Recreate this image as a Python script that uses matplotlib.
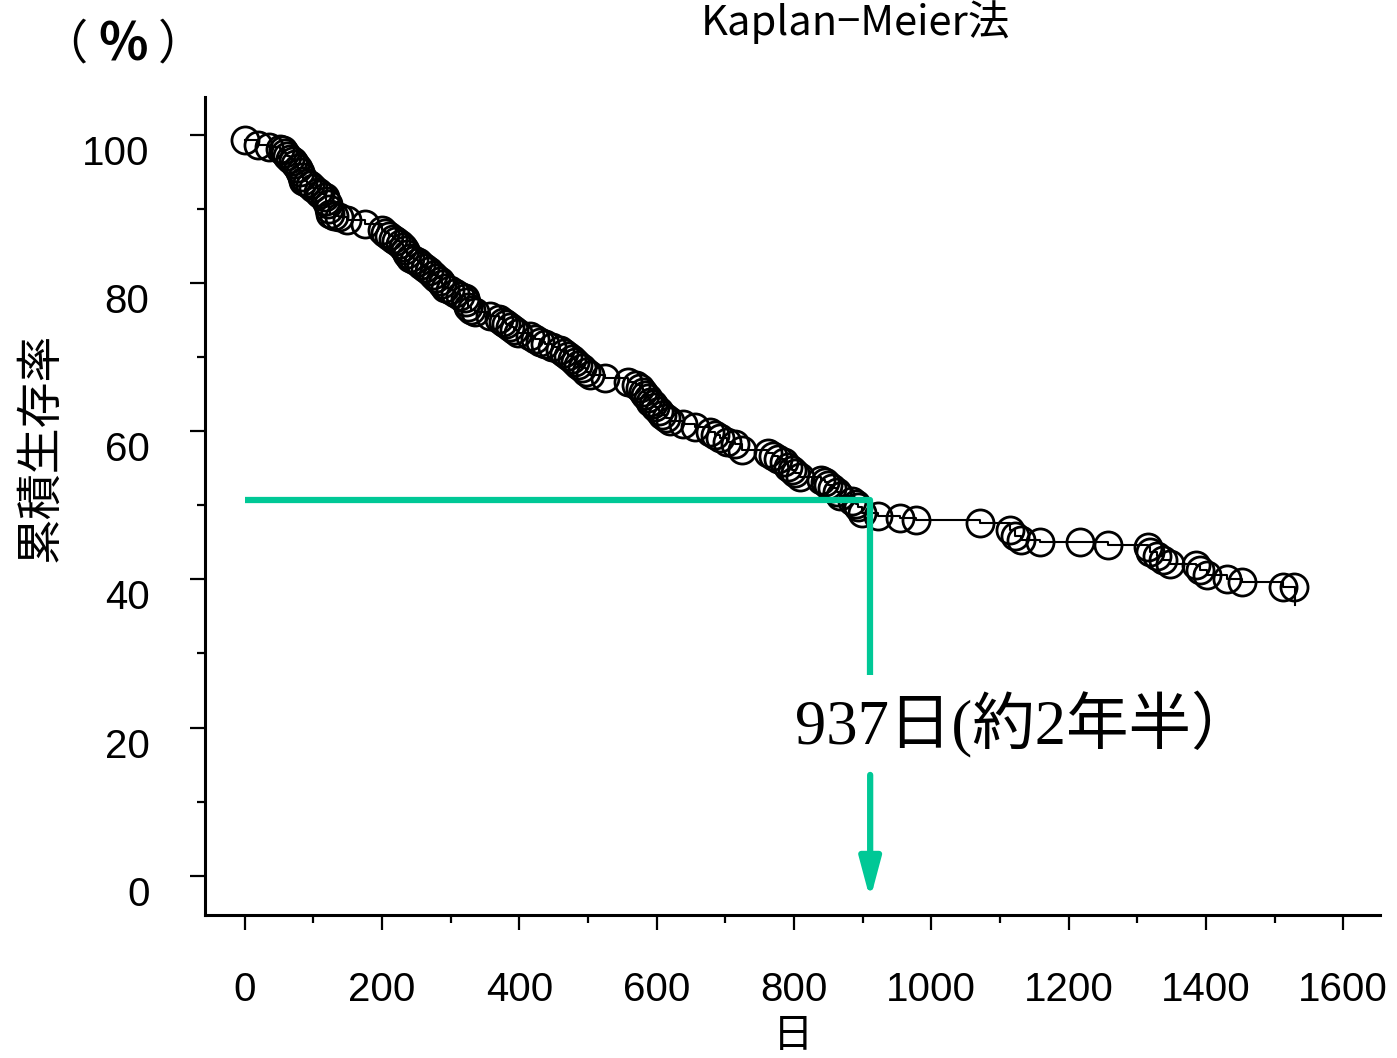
import matplotlib
matplotlib.use("Agg")
import matplotlib.pyplot as plt
from matplotlib.ticker import MultipleLocator
from matplotlib.transforms import ScaledTranslation

# ---- data ----
days = [0, 19, 35, 51, 55, 58, 62, 66, 70, 73, 77, 80, 83, 85, 90, 95, 100, 106, 110, 117,
        119, 121, 123, 124, 130, 138, 149, 175, 200, 204, 210, 216, 221, 226, 230, 233, 237,
        241, 246, 252, 257, 262, 268, 274, 279, 284, 288, 292, 299, 306, 314, 321, 323, 325,
        330, 335, 357, 370, 376, 381, 386, 392, 398, 415, 423, 430, 437, 448, 459, 465, 471,
        476, 481, 486, 491, 497, 503, 525, 558, 570, 576, 580, 583, 587, 590, 594, 598, 603,
        608, 614, 620, 638, 656, 678, 685, 692, 703, 714, 724, 762, 770, 777, 785, 792, 797,
        802, 809, 840, 845, 850, 856, 862, 867, 885, 890, 894, 899, 923, 955, 978, 1071, 1115,
        1122, 1130, 1159, 1217, 1257, 1315, 1319, 1329, 1338, 1348, 1385, 1392, 1402, 1431,
        1453, 1512, 1528]
survival = [99.3, 98.6, 98.3, 98.1, 97.9, 97.6, 97.2, 96.8, 96.4, 96.0, 95.5, 95.0, 94.3, 93.7,
            93.5, 93.2, 92.8, 92.3, 92.0, 91.6, 91.1, 90.6, 90.0, 89.3, 89.1, 88.9, 88.5, 87.9,
            87.1, 86.8, 86.4, 86.0, 85.6, 85.2, 84.8, 84.4, 83.9, 83.4, 83.1, 82.8, 82.4, 82.0,
            81.6, 81.1, 80.7, 80.3, 79.8, 79.3, 79.0, 78.7, 78.3, 78.0, 77.4, 76.8, 76.4, 76.1,
            75.6, 75.1, 74.8, 74.4, 74.0, 73.6, 73.2, 72.8, 72.5, 72.1, 71.7, 71.3, 70.9, 70.5,
            70.1, 69.7, 69.3, 68.9, 68.5, 68.0, 67.6, 67.2, 66.7, 66.2, 65.8, 65.3, 64.9, 64.5,
            64.0, 63.6, 63.2, 62.7, 62.2, 61.8, 61.4, 60.9, 60.5, 59.9, 59.5, 59.1, 58.6, 58.2,
            57.5, 57.1, 56.7, 56.3, 55.8, 55.2, 54.7, 54.3, 53.8, 53.4, 53.1, 52.8, 52.3, 51.8,
            51.3, 50.6, 50.2, 49.7, 49.0, 48.5, 48.3, 48.0, 47.6, 46.7, 45.9, 45.3, 45.1, 45.1,
            44.7, 44.3, 43.7, 43.1, 42.6, 42.1, 41.9, 41.3, 40.6, 40.0, 39.6, 38.9, 38.9]
end_day = 1530
end_survival = 36.6

median_day = 911
median_level = 50.7
gap_top, gap_bottom = 27.1, 13.6
arrow_tip = -3.2

xticks = [0, 200, 400, 600, 800, 1000, 1200, 1400, 1600]
yticks = [0, 20, 40, 60, 80, 100]

title = "Kaplan−Meier法"
xlabel = "日"
ylabel = "累積生存率"
unit_parts = ["（", "%", "）"]
note = "937日(約2年半）"

GREEN = "#00C896"
plt.rcParams["font.family"] = ["Liberation Sans", "Noto Sans CJK JP", "DejaVu Sans"]

fig = plt.figure(figsize=(13.97, 10.58), dpi=100)
ax = fig.add_axes([0.1467, 0.1352, 0.8413, 0.7731])

# KM step line
ax.plot(days + [end_day, end_day], survival + [survival[-1], end_survival],
        drawstyle="steps-post", color="black", lw=1.5, zorder=3)
ax.plot(days, survival, linestyle="none", marker="o", ms=19.5, mfc="none",
        mec="black", mew=2.0, zorder=4)

# median guide
ax.plot([0, median_day, median_day], [median_level, median_level, gap_top],
        color=GREEN, lw=4.5, zorder=5, solid_joinstyle="round", solid_capstyle="butt")
ax.annotate("", xy=(median_day, arrow_tip), xytext=(median_day, gap_bottom),
            arrowprops=dict(arrowstyle="-|>,head_length=1.2,head_width=0.32",
                            color=GREEN, lw=4.5, mutation_scale=20,
                            shrinkA=0, shrinkB=0), zorder=5)
ax.text(802, 20.3, note, fontsize=45, va="center", ha="left",
        family=["Liberation Serif", "Noto Sans CJK JP"])

ax.set_xlim(-58, 1654)
ax.set_ylim(-5.3, 105.1)
ax.set_xticks(xticks)
ax.set_yticks(yticks)
ax.xaxis.set_minor_locator(MultipleLocator(100))
ax.yaxis.set_minor_locator(MultipleLocator(10))
ax.tick_params(which="major", length=11, width=1.6, labelsize=29, pad=29)
ax.tick_params(which="minor", length=5.5, width=1.6)
for s in ["top", "right"]:
    ax.spines[s].set_visible(False)
for s in ["left", "bottom"]:
    ax.spines[s].set_linewidth(2.2)

shift = ScaledTranslation(0, -0.15, fig.dpi_scale_trans)
for lab in ax.get_yticklabels():
    lab.set_transform(lab.get_transform() + shift)

ax.set_xlabel(xlabel, fontsize=29, labelpad=5, family=["Noto Sans CJK JP"])
fig.text(0.029, 0.577, ylabel, rotation=90, fontsize=33, ha="center", va="center",
         family=["Noto Sans CJK JP"])
for xpos, part, size, w in zip([0.046, 0.088, 0.130], unit_parts, [34, 37, 34],
                               ["normal", "bold", "normal"]):
    fig.text(xpos, 0.957, part, fontsize=size, ha="center", va="center",
             family=["Noto Sans CJK JP"], fontweight=w)
fig.text(0.612, 0.979, title, fontsize=30, ha="center", va="center",
         family=["Noto Sans CJK JP"])

fig.savefig("out.png", dpi=100)
